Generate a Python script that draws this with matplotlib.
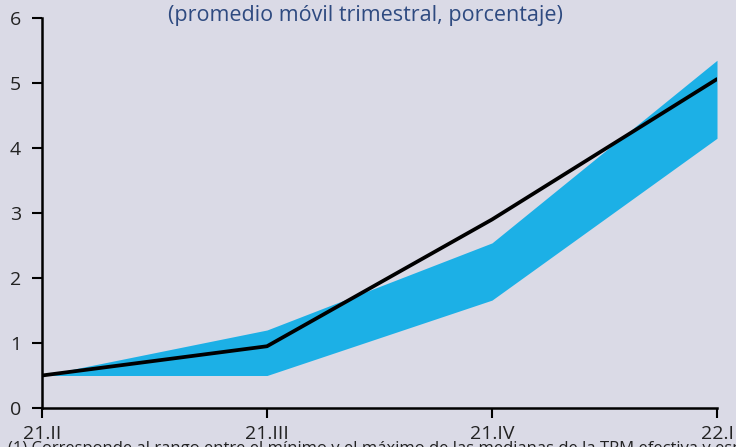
import matplotlib.pyplot as plt

quarters = ['21.II', '21.III', '21.IV', '22.I']
tpm = [0.5, 0.95, 2.9, 5.06]
band_upper = [0.5, 1.2, 2.54, 5.35]
band_lower = [0.5, 0.5, 1.66, 4.15]
y_ticks = [0, 1, 2, 3, 4, 5, 6]

bg = '#dadae6'
plt.rcParams['font.family'] = ['Open Sans', 'DejaVu Sans']

fig = plt.figure(figsize=(7.36, 4.47), dpi=100, facecolor=bg)
ax = fig.add_axes([42 / 736, 39 / 447, 675 / 736, 390 / 447])
ax.set_facecolor(bg)

x = list(range(len(quarters)))
ax.fill_between(x, band_lower, band_upper, color='#1cb0e6', linewidth=0, zorder=2)
ax.plot(x, tpm, color='black', linewidth=2.7, solid_capstyle='round', zorder=3)

ax.set_xlim(0, len(quarters) - 1)
ax.set_ylim(0, 6)
ax.set_xticks(x)
ax.set_xticklabels(quarters)
ax.set_yticks(y_ticks)

for side in ['top', 'right']:
    ax.spines[side].set_visible(False)
for side in ['left', 'bottom']:
    ax.spines[side].set_color('black')
    ax.spines[side].set_linewidth(1.8)
    ax.spines[side].set_zorder(4)

ax.tick_params(axis='both', colors='black', labelcolor='#222222', labelsize=14,
               width=1.5, length=7, direction='out')
ax.tick_params(axis='y', pad=8)
ax.tick_params(axis='x', pad=5)
for lbl in ax.get_xticklabels() + ax.get_yticklabels():
    lbl.set_clip_on(False)

fig.text(0.497, 1 - 15 / 447, '(promedio móvil trimestral, porcentaje)',
         ha='center', va='center', fontsize=15.5, color='#2e4a80')
fig.text(8 / 736, 1 - 441 / 447,
         '(1) Corresponde al rango entre el mínimo y el máximo de las medianas de la TPM efectiva y esperada.',
         ha='left', va='top', fontsize=12, color='#222222')

fig.savefig('out.png', dpi=100, facecolor=bg)
